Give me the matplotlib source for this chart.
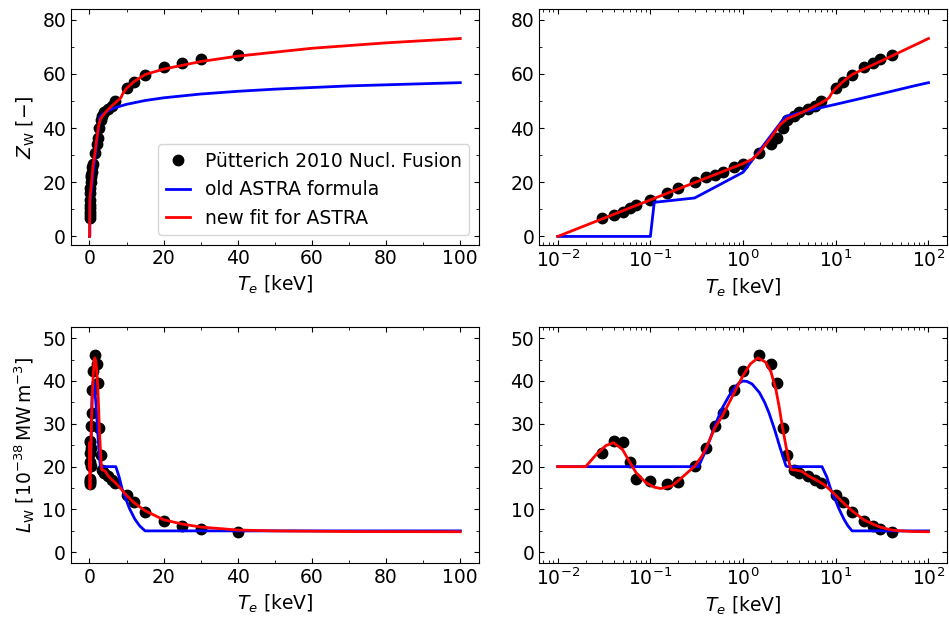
#Carga de tungsteno Z_W y funcion de radiacion L_W frente a la temperatura electronica
import matplotlib
matplotlib.use('Agg')
import matplotlib.pyplot as plt
from matplotlib.ticker import MultipleLocator

#Puntos de Puetterich 2010 Nucl. Fusion
te_pts = [0.03, 0.04, 0.05, 0.06, 0.07, 0.1, 0.15, 0.2, 0.3, 0.4, 0.5, 0.6, 0.8, 1.0,
          1.5, 2.0, 2.3, 2.7, 3.0, 3.5, 4.0, 5.0, 6.0, 7.0, 10, 12, 15, 20, 25, 30, 40]
z_pts = [6.9, 8.0, 9.2, 10.6, 11.7, 13.6, 16.0, 17.8, 20.2, 21.8, 22.8, 23.9, 25.5, 26.7,
         30.7, 34.1, 36.2, 40.0, 42.9, 44.6, 45.8, 46.9, 48.2, 50.0, 54.9, 57.1, 59.8, 62.5, 64.1, 65.5, 67.1]
l_pts = [23.2, 25.9, 25.7, 21.1, 17.2, 16.7, 15.9, 16.5, 20.1, 24.4, 29.4, 32.5, 38.0, 42.3,
         46.1, 44.0, 39.6, 29.0, 22.8, 19.3, 18.6, 17.8, 16.8, 16.2, 13.4, 11.7, 9.4, 7.4, 6.2, 5.4, 4.8]

#Formula vieja de ASTRA para Z_W
te_z_old = [0.01, 0.1, 0.11, 0.3, 1.0, 2.8, 3.0, 4.0, 5.0, 7.0, 10, 15, 20, 30, 40, 50, 70, 100]
z_old = [0.0, 0.0, 12.6, 14.2, 23.7, 43.9, 44.5, 45.6, 46.4, 47.6, 48.8, 50.2, 51.2, 52.6, 53.6, 54.4, 55.6, 56.8]

#Ajuste nuevo para Z_W
te_z_new = [0.01, 0.1, 1.0, 1.25, 1.5, 2.0, 2.5, 3.0, 4.0, 5.0, 6.0, 7.0, 8.0, 8.5, 9.0, 10,
            12, 15, 20, 30, 40, 60, 80, 100]
z_new = [0.0, 13.5, 26.9, 28.5, 31.0, 36.5, 41.2, 43.5, 45.3, 46.8, 48.2, 49.4, 50.6, 51.3, 52.8, 54.7,
         57.2, 59.8, 61.8, 64.6, 66.6, 69.5, 71.5, 73.1]

#Formula vieja de ASTRA para L_W
te_l_old = [0.01, 0.33, 0.4, 0.45, 0.5, 0.6, 0.7, 0.8, 0.9, 1.0, 1.1, 1.25, 1.5, 1.7, 1.9, 2.2, 2.5,
            2.9, 3.0, 7.1, 8.0, 8.8, 10, 10.8, 12.2, 13.5, 15, 100]
l_old = [20.0, 20.0, 24.0, 27.0, 29.8, 33.8, 36.4, 38.3, 39.5, 40.0, 39.9, 39.3, 37.3, 35.1, 32.6, 28.5, 24.5,
         20.2, 20.0, 20.0, 17.6, 14.8, 12.0, 10.2, 7.8, 6.2, 5.0, 5.0]

#Ajuste nuevo para L_W
te_l_new = [0.01, 0.02, 0.026, 0.033, 0.04, 0.05, 0.059, 0.07, 0.089, 0.11, 0.13, 0.17, 0.22, 0.3,
            0.36, 0.4, 0.5, 0.6, 0.8, 1.0, 1.2, 1.45, 1.75, 2.0, 2.25, 2.45, 2.65, 2.9, 3.15, 3.3,
            3.7, 4.3, 5.1, 6.0, 7.0, 7.8, 10, 12, 15, 20, 25, 30, 40, 50, 70, 100]
l_new = [20.0, 20.0, 22.8, 24.9, 25.6, 24.0, 21.3, 18.6, 16.3, 15.2, 14.9, 15.5, 17.5, 20.1,
         22.5, 24.4, 29.2, 31.9, 37.2, 41.3, 44.0, 45.4, 44.4, 42.1, 38.2, 34.0, 29.4, 24.8, 20.9, 19.3,
         19.2, 18.9, 17.8, 17.0, 16.2, 15.5, 13.3, 11.6, 9.7, 7.6, 6.6, 5.9, 5.2, 5.0, 4.85, 4.8]

plt.rcParams['font.size'] = 13.5

fig, axs = plt.subplots(2, 2, figsize=(9.49, 6.17), dpi=100)
plt.subplots_adjust(left=0.0748, right=0.9979, bottom=0.0875, top=0.9854, wspace=0.148, hspace=0.352)

for fila, (te_o, y_o, te_n, y_n, y_p) in enumerate([(te_z_old, z_old, te_z_new, z_new, z_pts),
                                                  (te_l_old, l_old, te_l_new, l_new, l_pts)]):
    for col in range(2):
        ax = axs[fila, col]
        ax.plot(te_pts, y_p, 'o', color='black', ms=7.5, label='Pütterich 2010 Nucl. Fusion')
        ax.plot(te_o, y_o, color='blue', lw=2, label='old ASTRA formula')
        ax.plot(te_n, y_n, color='red', lw=2, label='new fit for ASTRA')
        ax.set_xlabel('$T_e$ [keV]')
        if col == 1:
            ax.set_xscale('log')
        else:
            ax.xaxis.set_major_locator(MultipleLocator(20))
            ax.xaxis.set_minor_locator(MultipleLocator(10))
        if fila == 0:
            ax.set_ylim(-3, 84)
            ax.yaxis.set_major_locator(MultipleLocator(20))
            ax.yaxis.set_minor_locator(MultipleLocator(10))
        else:
            ax.set_ylim(-2.5, 52.5)
            ax.yaxis.set_major_locator(MultipleLocator(10))
            ax.yaxis.set_minor_locator(MultipleLocator(5))
        ax.tick_params(which='both', direction='in', top=True, right=True)

axs[0, 0].set_ylabel(r'$Z_\mathrm{W}$ [$-$]')
axs[1, 0].set_ylabel(r'$L_\mathrm{W}$ [$10^{-38}\,\mathrm{MW\,m^{-3}}$]')
axs[0, 0].legend(loc='lower right', handlelength=1.3)

plt.savefig('out.png')
